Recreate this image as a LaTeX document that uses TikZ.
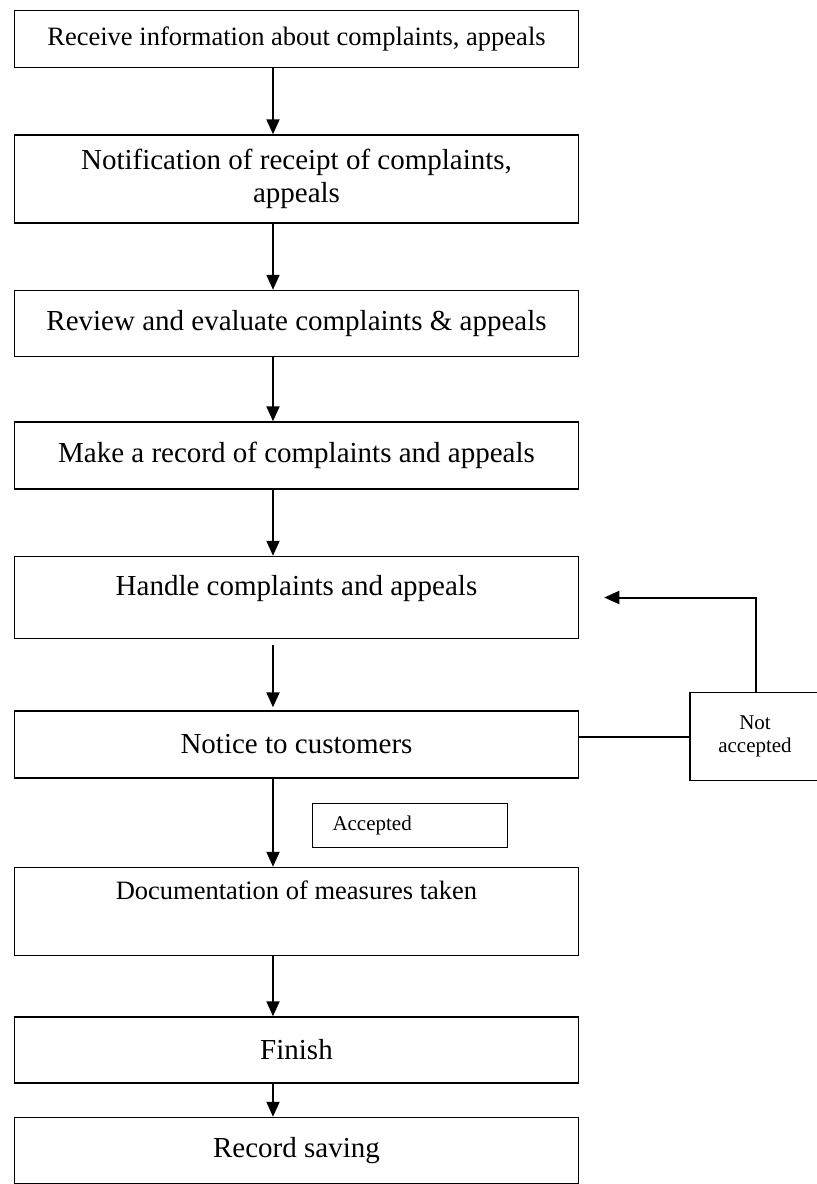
\documentclass[tikz,border=0pt]{standalone}
\usepackage{fontspec}
\setmainfont{Liberation Serif}
\usetikzlibrary{positioning}
\usetikzlibrary{arrows.meta}

\begin{document}
\begin{tikzpicture}[x=1pt,y=-1pt,
  stepbox/.style={rectangle, draw=black, line width=1.5pt, minimum width=564pt, inner sep=0pt, align=center, font=\fontsize{29}{33}\selectfont},
  sidebox/.style={rectangle, draw=black, line width=1.5pt, inner sep=0pt, font=\fontsize{21}{23}\selectfont},
  flow/.style={line width=2pt, -{Triangle[length=15pt,width=13pt]}}]
	  \useasboundingbox (0,0) rectangle (817,1184);
	  \coordinate (spine) at (273,0);
	  \node[stepbox, minimum height=57pt, font=\fontsize{26.5}{30}\selectfont] (receive) at (296.5,39) {Receive information about complaints, appeals};
	  \node[stepbox, minimum height=88pt, below=66pt of receive] (notify) {Notification of receipt of complaints,\\ appeals};
	  \node[stepbox, minimum height=66pt, below=66pt of notify] (review) {Review and evaluate complaints \& appeals};
	  \node[stepbox, minimum height=67pt, below=64pt of review] (record) {Make a record of complaints and appeals};
	  \node[stepbox, minimum height=82pt, text depth=23.5pt, below=66pt of record] (handle) {Handle complaints and appeals};
	  \node[stepbox, minimum height=67pt, below=71pt of handle] (notice) {Notice to customers};
	  \node[stepbox, minimum height=88pt, text depth=43.5pt, font=\fontsize{26.5}{30}\selectfont, below=88pt of notice] (measures) {Documentation of measures taken};
	  \node[stepbox, minimum height=66pt, below=60pt of measures] (finish) {Finish};
	  \node[stepbox, minimum height=66pt, below=33pt of finish] (saving) {Record saving};
	  \node[sidebox, minimum width=130pt, minimum height=88pt, align=center] (rejected) at (755,736.5) {Not\\ accepted};
	  \node[sidebox, minimum height=44pt, text width=155pt, inner xsep=20pt, align=left] (accepted) at (410,825.5) {Accepted};
	  \draw[flow] (receive.south -| spine) -- (notify.north -| spine);
	  \draw[flow] (notify.south -| spine) -- (review.north -| spine);
	  \draw[flow] (review.south -| spine) -- (record.north -| spine);
	  \draw[flow] (record.south -| spine) -- (handle.north -| spine);
	  \draw[flow, shorten <=6pt, shorten >=3pt] (handle.south -| spine) -- (notice.north -| spine);
	  \draw[flow] (notice.south -| spine) -- (measures.north -| spine);
	  \draw[flow] (measures.south -| spine) -- (finish.north -| spine);
	  \draw[flow] (finish.south -| spine) -- (saving.north -| spine);
	  \draw[line width=2pt] (notice.east |- rejected.west) -- (rejected.west);
	  \draw[flow, shorten >=25pt] ([xshift=1pt]rejected.north) |- (handle.east);
	\end{tikzpicture}
\end{document}
